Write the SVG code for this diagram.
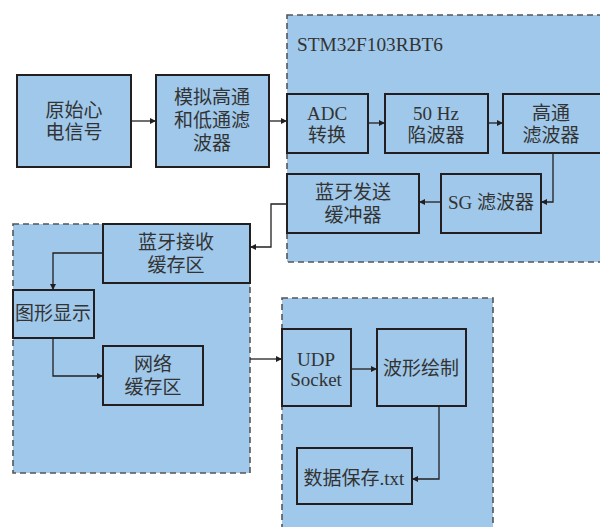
<svg xmlns="http://www.w3.org/2000/svg" width="600" height="527" viewBox="0 0 600 527">
<defs>
<marker id="ah" viewBox="0 0 10 10" refX="10" refY="5" markerWidth="8" markerHeight="6" markerUnits="userSpaceOnUse" orient="auto">
<path d="M0,0 L10,5 L0,10 z" fill="#231f20"/>
</marker>
<style>
.grp{fill:#9fc8ea;stroke:#555;stroke-width:1.6;stroke-dasharray:6,4}
.box{fill:#9fc8ea;stroke:#231f20;stroke-width:2}
.t{font-family:"Liberation Serif","Noto Sans CJK SC",serif;font-size:19px;fill:#333;text-anchor:middle}
.c{fill:none;stroke:#231f20;stroke-width:1.3;marker-end:url(#ah)}
</style>
</defs>
<rect width="600" height="527" fill="#fff"/>
<g id="grp-stm">
<rect class="grp" x="287" y="15" width="320" height="247"/>
<text class="t" x="297" y="51" style="text-anchor:start" textLength="146" lengthAdjust="spacingAndGlyphs">STM32F103RBT6</text>
</g>
<g id="grp-left">
<rect class="grp" x="13" y="224" width="237" height="249"/>
</g>
<g id="grp-right">
<rect class="grp" x="282" y="298" width="211" height="240"/>
</g>
<g id="n-src">
<rect class="box" x="17" y="75" width="114" height="92"/>
<text class="t" x="74" y="117">原始心</text>
<text class="t" x="74" y="139">电信号</text>
</g>
<g id="n-analog">
<rect class="box" x="156" y="75" width="113" height="92"/>
<text class="t" x="212" y="104">模拟高通</text>
<text class="t" x="212" y="127">和低通滤</text>
<text class="t" x="212" y="150">波器</text>
</g>
<g id="n-adc">
<rect class="box" x="287" y="94" width="81" height="59"/>
<text class="t" x="327" y="120">ADC</text>
<text class="t" x="327" y="142">转换</text>
</g>
<g id="n-notch">
<rect class="box" x="385" y="94" width="103" height="59"/>
<text class="t" x="436" y="120">50 Hz</text>
<text class="t" x="436" y="142">陷波器</text>
</g>
<g id="n-hp">
<rect class="box" x="503" y="94" width="104" height="59"/>
<text class="t" x="551" y="120">高通</text>
<text class="t" x="551" y="142">滤波器</text>
</g>
<g id="n-sg">
<rect class="box" x="441" y="174" width="100" height="59"/>
<text class="t" x="491" y="209">SG 滤波器</text>
</g>
<g id="n-bttx">
<rect class="box" x="287" y="174" width="132" height="59"/>
<text class="t" x="353" y="199">蓝牙发送</text>
<text class="t" x="353" y="222">缓冲器</text>
</g>
<g id="n-btrx">
<rect class="box" x="103" y="224" width="147" height="59"/>
<text class="t" x="176" y="249">蓝牙接收</text>
<text class="t" x="176" y="272">缓存区</text>
</g>
<g id="n-disp">
<rect class="box" x="13" y="290" width="81" height="48"/>
<text class="t" x="53" y="320">图形显示</text>
</g>
<g id="n-netbuf">
<rect class="box" x="103" y="346" width="100" height="59"/>
<text class="t" x="153" y="371">网络</text>
<text class="t" x="153" y="394">缓存区</text>
</g>
<g id="n-udp">
<rect class="box" x="282" y="329" width="69" height="77"/>
<text class="t" x="316" y="366">UDP</text>
<text class="t" x="316" y="386">Socket</text>
</g>
<g id="n-plot">
<rect class="box" x="377" y="329" width="89" height="77"/>
<text class="t" x="421" y="375">波形绘制</text>
</g>
<g id="n-save">
<rect class="box" x="297" y="448" width="115" height="56"/>
<text class="t" x="354" y="485">数据保存.txt</text>
</g>
<g id="connectors">
<path class="c" d="M131,121 H156"/>
<path class="c" d="M269,121 H287"/>
<path class="c" d="M368,123 H385"/>
<path class="c" d="M488,123 H503"/>
<path class="c" d="M553,153 V202 H541"/>
<path class="c" d="M441,202 H419"/>
<path class="c" d="M287,204 H271 V247 H250"/>
<path class="c" d="M103,253 H53 V290"/>
<path class="c" d="M53,338 V376 H103"/>
<path class="c" d="M250,359 H282"/>
<path class="c" d="M351,369 H377"/>
<path class="c" d="M439,406 V479 H412"/>
</g>
</svg>
